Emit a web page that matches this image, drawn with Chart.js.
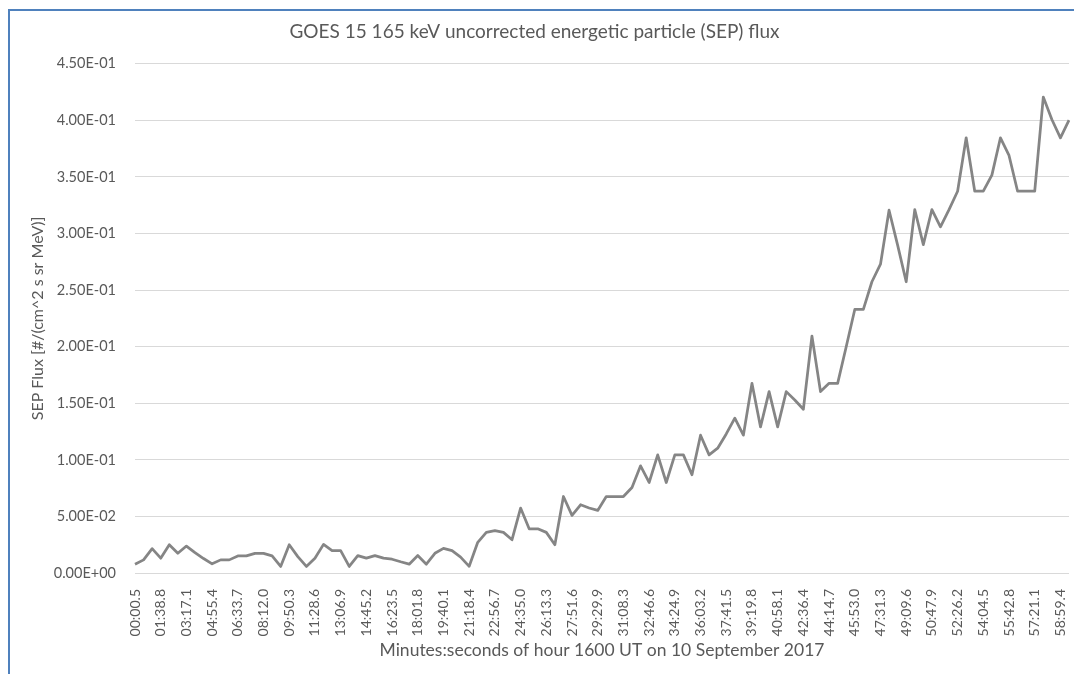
<!DOCTYPE html>
<html>
<head>
<meta charset="utf-8">
<script src="https://cdn.jsdelivr.net/npm/chart.js@4.4.1/dist/chart.umd.min.js"></script>
<style>
  html, body { margin: 0; padding: 0; background: #fff; }
  #wrap { position: relative; width: 1074px; height: 674px; overflow: hidden; background: #fff; }
  #frame { position: absolute; left: 8px; top: 9px; width: 1200px; height: 800px;
    border-top: 2px solid #4f81bd; border-left: 2px solid #4f81bd; }
  #chart { position: absolute; left: 0; top: 0; }
</style>
</head>
<body>
<div id="wrap">
  <div id="frame"></div>
  <canvas id="chart" width="1074" height="674"></canvas>
</div>
<script>
// chart text
const chartTitle = "GOES 15 165 keV uncorrected energetic particle (SEP) flux";
const xTitle = "Minutes:seconds of hour 1600 UT on 10 September 2017";
const yTitle = "SEP Flux [#/(cm^2 s sr MeV)]";

// sample times (mm:ss.s), one every ~32.8 s
const times = [
  "00:00.5", "00:33.3", "01:06.0", "01:38.8", "02:11.6", "02:44.3",
  "03:17.1", "03:49.9", "04:22.6", "04:55.4", "05:28.2", "06:00.9",
  "06:33.7", "07:06.5", "07:39.2", "08:12.0", "08:44.8", "09:17.5",
  "09:50.3", "10:23.1", "10:55.8", "11:28.6", "12:01.4", "12:34.1",
  "13:06.9", "13:39.7", "14:12.4", "14:45.2", "15:18.0", "15:50.7",
  "16:23.5", "16:56.3", "17:29.0", "18:01.8", "18:34.6", "19:07.3",
  "19:40.1", "20:12.9", "20:45.6", "21:18.4", "21:51.2", "22:23.9",
  "22:56.7", "23:29.5", "24:02.2", "24:35.0", "25:07.8", "25:40.5",
  "26:13.3", "26:46.1", "27:18.8", "27:51.6", "28:24.4", "28:57.1",
  "29:29.9", "30:02.7", "30:35.5", "31:08.3", "31:41.1", "32:13.8",
  "32:46.6", "33:19.4", "33:52.1", "34:24.9", "34:57.7", "35:30.4",
  "36:03.2", "36:36.0", "37:08.7", "37:41.5", "38:14.3", "38:47.0",
  "39:19.8", "39:52.6", "40:25.3", "40:58.1", "41:30.9", "42:03.6",
  "42:36.4", "43:09.2", "43:41.9", "44:14.7", "44:47.5", "45:20.2",
  "45:53.0", "46:25.8", "46:58.5", "47:31.3", "48:04.1", "48:36.8",
  "49:09.6", "49:42.4", "50:15.1", "50:47.9", "51:20.7", "51:53.4",
  "52:26.2", "52:59.0", "53:31.7", "54:04.5", "54:37.3", "55:10.0",
  "55:42.8", "56:15.6", "56:48.3", "57:21.1", "57:53.9", "58:26.6",
  "58:59.4", "59:32.2"
];

// flux values
const flux = [
  0.0078, 0.0116, 0.0215, 0.0131, 0.0250, 0.0174,
  0.0238, 0.0180, 0.0128, 0.0081, 0.0116, 0.0116,
  0.0151, 0.0151, 0.0174, 0.0174, 0.0151, 0.0058,
  0.0250, 0.0145, 0.0058, 0.0131, 0.0253, 0.0198,
  0.0198, 0.0058, 0.0154, 0.0131, 0.0154, 0.0131,
  0.0122, 0.0099, 0.0078, 0.0154, 0.0078, 0.0174,
  0.0218, 0.0198, 0.0140, 0.0059, 0.0271, 0.0359,
  0.0374, 0.0359, 0.0294, 0.0574, 0.0391, 0.0391,
  0.0359, 0.0250, 0.0676, 0.0509, 0.0603, 0.0574,
  0.0553, 0.0676, 0.0676, 0.0676, 0.0756, 0.0947,
  0.0800, 0.1044, 0.0800, 0.1044, 0.1044, 0.0868,
  0.1218, 0.1044, 0.1103, 0.1229, 0.1368, 0.1218,
  0.1676, 0.1291, 0.1603, 0.1291, 0.1603, 0.1529,
  0.1447, 0.2094, 0.1603, 0.1676, 0.1676, 0.2000,
  0.2329, 0.2329, 0.2574, 0.2729, 0.3206, 0.2897,
  0.2574, 0.3212, 0.2902, 0.3212, 0.3059, 0.3212,
  0.3374, 0.3846, 0.3374, 0.3374, 0.3516, 0.3846,
  0.3690, 0.3374, 0.3374, 0.3374, 0.4206, 0.4008,
  0.3846, 0.4002
];

// y axis range and tick step
const yMin = 0;
const yMax = 0.45;
const yStep = 0.05;

const font = "Lato, 'Open Sans', 'Liberation Sans', sans-serif";
const textColor = "#595959";

// 4.50E-01 style
function sci(v) {
  if (Math.abs(v) < 1e-12) return "0.00E+00";
  let exp = Math.floor(Math.log10(Math.abs(v)));
  let mant = v / Math.pow(10, exp);
  if (Math.abs(mant) >= 9.995) { mant /= 10; exp += 1; }
  const sign = exp < 0 ? "-" : "+";
  return mant.toFixed(2) + "E" + sign + String(Math.abs(exp)).padStart(2, "0");
}

const ctx = document.getElementById("chart").getContext("2d");
new Chart(ctx, {
  type: "line",
  data: {
    labels: times,
    datasets: [{
      data: flux,
      borderColor: "#858585",
      borderWidth: 2.75,
      borderJoinStyle: "round",
      pointRadius: 0,
      tension: 0,
      fill: false
    }]
  },
  options: {
    responsive: false,
    animation: false,
    layout: { padding: { left: 0, right: 5, top: 0, bottom: 0 } },
    plugins: {
      legend: { display: false },
      tooltip: { enabled: false },
      title: {
        display: true,
        text: chartTitle,
        color: textColor,
        font: { family: font, size: 19, weight: "normal" },
        padding: { top: 20, bottom: 21 }
      }
    },
    scales: {
      x: {
        offset: false,
        grid: { display: false },
        border: { display: false },
        ticks: {
          autoSkip: false,
          minRotation: 90,
          maxRotation: 90,
          padding: 8,
          color: textColor,
          font: { family: font, size: 14 },
          callback: (val, i) => (i % 3 === 0 ? times[i] : null)
        },
        title: {
          display: true,
          text: xTitle,
          color: textColor,
          font: { family: font, size: 17.5 },
          padding: { top: 0, bottom: 13 }
        },
        afterFit: (s) => {
          s.height = 674 - 573;
          s.paddingLeft = 0;
          s.paddingRight = 0;
        }
      },
      y: {
        min: yMin,
        max: yMax,
        grid: { color: "#d9d9d9", lineWidth: 1, drawTicks: false },
        border: { display: false },
        ticks: {
          stepSize: yStep,
          padding: 19,
          color: textColor,
          font: { family: font, size: 14.5 },
          callback: (v) => sci(v)
        },
        title: {
          display: true,
          text: yTitle,
          color: textColor,
          font: { family: font, size: 16 },
          padding: { top: 28, bottom: 0 }
        },
        afterFit: (s) => { s.width = 135; }
      }
    }
  }
});
</script>
</body>
</html>
